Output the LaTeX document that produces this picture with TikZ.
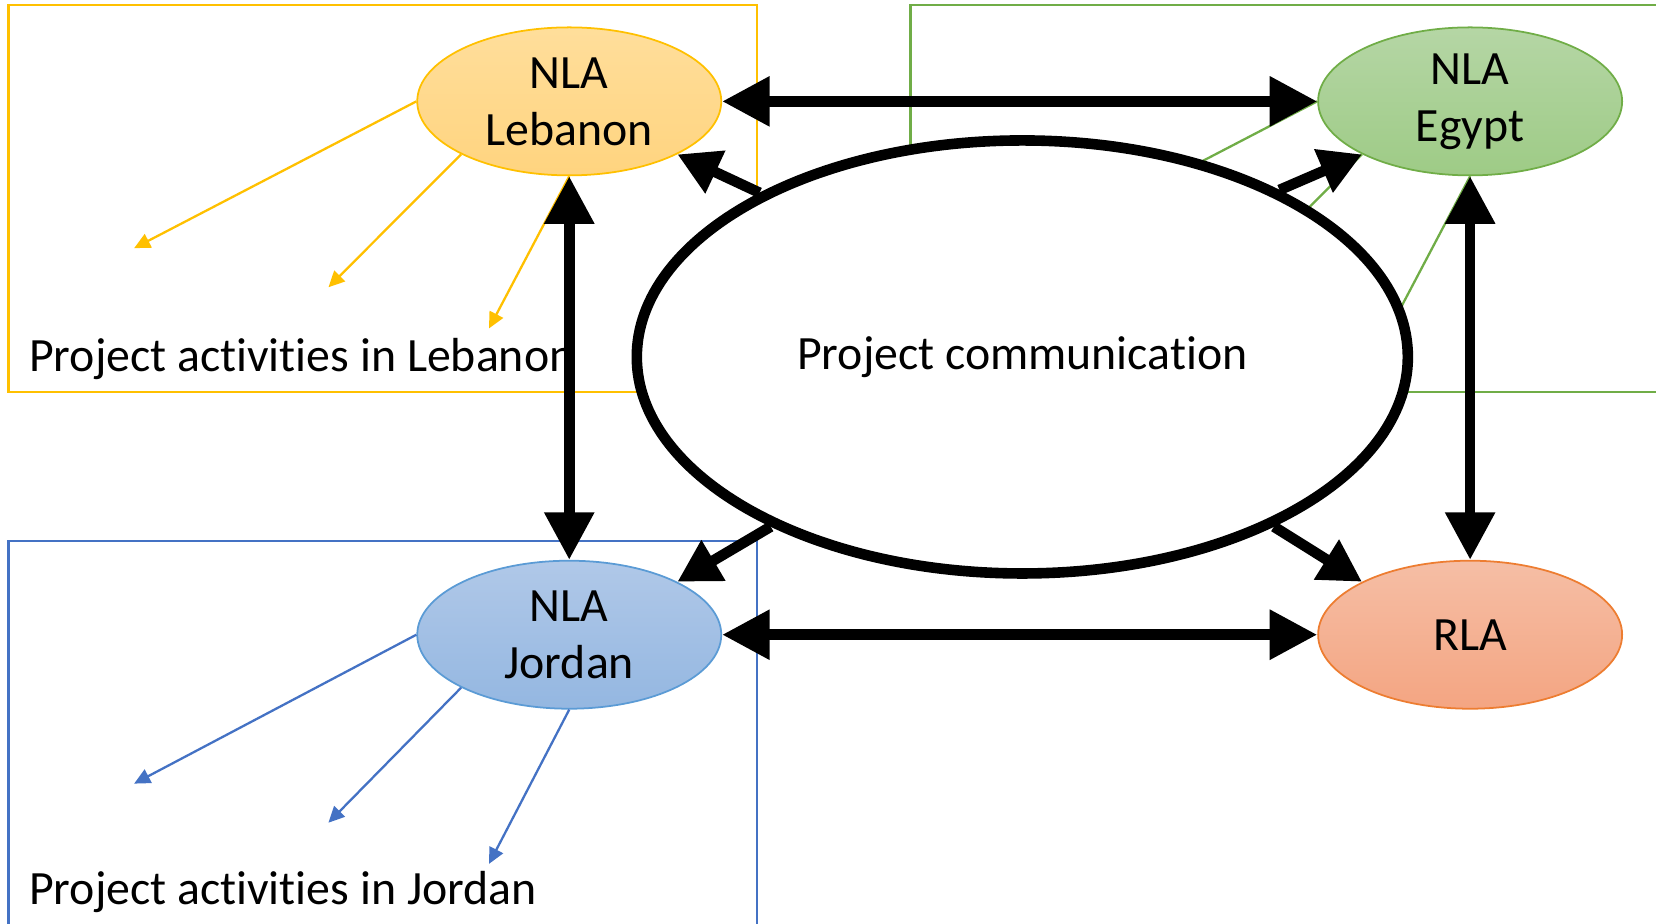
\documentclass[tikz,border=0pt]{standalone}
\usepackage{fontspec}
\setmainfont{Carlito}[Ligatures=NoCommon]
\usepackage{xcolor}
\usepackage{tikz}
\usetikzlibrary{arrows.meta}
\usetikzlibrary{shapes.geometric}
\definecolor{lebline}{RGB}{255,192,0}
\definecolor{egyline}{RGB}{112,173,71}
\definecolor{jorline}{RGB}{68,114,196}
\definecolor{jorrim}{RGB}{91,155,213}
\definecolor{rlaline}{RGB}{237,125,49}

\begin{document}
\begin{tikzpicture}[x=0.10561mm, y=-0.10561mm, font=\fontsize{13.6}{16.2}\selectfont,
    nla/.style={ellipse, minimum width=30.4mm, minimum height=14.8mm,
      inner sep=0pt, align=center, line width=0.5pt},
    act/.style={line width=0.65pt, -{Triangle[length=1.6mm, width=1.5mm]}},
    link/.style={line width=1.06mm,
      {Triangle[length=4.75mm, width=4.75mm]}-{Triangle[length=4.75mm, width=4.75mm]}},
    talk/.style={line width=1.06mm, -{Triangle[length=4.2mm, width=4.45mm]}}]
    \useasboundingbox (0,0) rectangle (1568,874);
    \clip (0,0) rectangle (1568,874);
    % activity boxes
    \draw[lebline, line width=0.65pt] (8,5) rectangle (717,371);
    \draw[egyline, line width=0.65pt] (862,5) rectangle (1700,371);
    \draw[jorline, line width=0.65pt] (8,512) rectangle (717,980);
    % agencies
    \node[nla, draw=lebline, top color={rgb,255:red,255;green,222;blue,155},
      bottom color={rgb,255:red,255;green,212;blue,127}] (lebanon) at (539,96) {NLA\\Lebanon};
    \node[nla, draw=egyline, top color={rgb,255:red,181;green,214;blue,165},
      bottom color={rgb,255:red,158;green,203;blue,134}] (egypt) at (1392,96) {NLA\\Egypt};
    \node[nla, draw=jorrim, top color={rgb,255:red,176;green,200;blue,232},
      bottom color={rgb,255:red,148;green,183;blue,225}] (jordan) at (539,601) {NLA\\Jordan};
    \node[nla, draw=rlaline, top color={rgb,255:red,245;green,190;blue,165},
      bottom color={rgb,255:red,244;green,165;blue,130}] (rla) at (1392,601) {RLA};
    % activities
    \coordinate (leb1) at (127,235);  \coordinate (leb2) at (311,272);  \coordinate (leb3) at (463,311);
    \coordinate (egy1) at (980,235);  \coordinate (egy2) at (1164,272); \coordinate (egy3) at (1316,311);
    \coordinate (jor1) at (127,742);  \coordinate (jor2) at (311,779);  \coordinate (jor3) at (463,818);
    \foreach \n/\a in {1/west, 2/south west, 3/south}{
      \draw[act, lebline] (lebanon.\a) -- (leb\n);
      \draw[act, egyline] (egypt.\a) -- (egy\n);
      \draw[act, jorline] (jordan.\a) -- (jor\n);
    }
    \node[anchor=west, inner sep=0pt] (leblabel) at (27,340) {Project activities in Lebanon};
    \node[anchor=west, inner sep=0pt] (jorlabel) at (27,845) {Project activities in Jordan};
    % communication
    \node[ellipse, draw, fill=white, line width=1.06mm, minimum width=77.1mm,
      minimum height=43.3mm, inner sep=0pt] (comm) at (968,338) {\raisebox{-0.4mm}{Project communication}};
    \draw[link] (lebanon) -- (egypt);
    \draw[link] (jordan) -- (rla);
    \draw[link] (lebanon) -- (jordan);
    \draw[link] (egypt) -- (rla);
    \draw[talk] (comm.148) -- (lebanon.south east);
    \draw[talk] (comm.33) -- (egypt.south west);
    \draw[talk] (comm.214) -- (jordan.north east);
    \draw[talk] (comm.-34) -- (rla.north west);
  \end{tikzpicture}
\end{document}
